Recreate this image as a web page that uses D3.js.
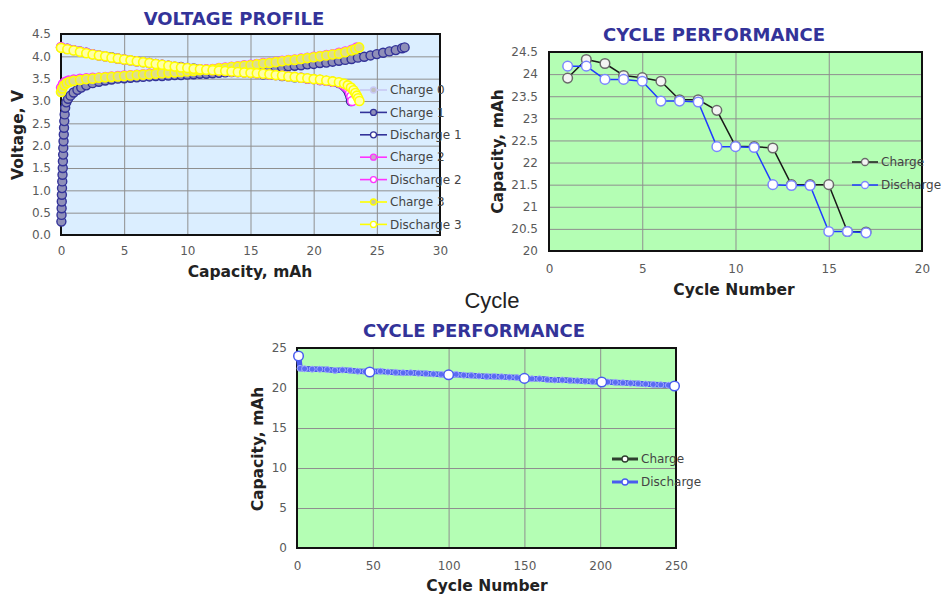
<!DOCTYPE html>
<html><head><meta charset="utf-8">
<script src="https://cdn.jsdelivr.net/npm/d3@7"></script>
<style>body{margin:0;background:#fff}svg{display:block}</style>
</head><body>
<svg id="c" width="943" height="596"></svg>
<script>
// ---------------- DATA ----------------
const voltXTicks=[0,5,10,15,20,25,30];
const voltYTicks=[0,0.5,1,1.5,2,2.5,3,3.5,4,4.5];
const voltSeriesNames=["Charge 0","Charge 1","Discharge 1","Charge 2","Discharge 2","Charge 3","Discharge 3"];
const charge0=[];
const charge1=[[0.03,0.30],[0.04,0.45],[0.05,0.6],[0.06,0.75],[0.07,0.9],[0.08,1.05],[0.1,1.2],[0.12,1.35],[0.14,1.5],[0.15,1.65],[0.17,1.8],[0.18,1.95],[0.2,2.1],[0.22,2.25],[0.24,2.4],[0.26,2.55],[0.29,2.7],[0.33,2.85],[0.42,2.97],[0.56,3.05],[0.75,3.12],[1.0,3.19],[1.3,3.25],[1.6,3.3],[2.0,3.35],[2.5,3.4],[3.0,3.43],[3.5,3.46],[4.0,3.48],[4.5,3.5],[5.0,3.51],[5.5,3.52],[6.0,3.53],[6.5,3.54],[7.0,3.55],[7.5,3.56],[8.0,3.56],[8.5,3.57],[9.0,3.58],[9.5,3.58],[10,3.59],[10.5,3.6],[11,3.61],[11.5,3.61],[12,3.62],[12.5,3.63],[13,3.64],[13.5,3.65],[14,3.66],[14.5,3.68],[15,3.69],[15.5,3.7],[16,3.72],[16.5,3.73],[17,3.75],[17.5,3.76],[18,3.78],[18.5,3.79],[19,3.8],[19.5,3.82],[20,3.83],[20.5,3.85],[21,3.86],[21.5,3.88],[22,3.9],[22.5,3.92],[23,3.94],[23.5,3.97],[24,3.99],[24.5,4.02],[25,4.05],[25.5,4.08],[26,4.11],[26.5,4.14],[27,4.18],[27.2,4.2]];
const discharge1=[[0,4.2],[0.5,4.17],[1,4.14],[1.5,4.11],[2,4.08],[2.5,4.05],[3,4.02],[3.5,4.0],[4,3.98],[4.5,3.95],[5,3.93],[5.5,3.91],[6,3.89],[6.5,3.87],[7,3.85],[7.5,3.83],[8,3.81],[8.5,3.79],[9,3.77],[9.5,3.76],[10,3.74],[10.5,3.73],[11,3.71],[11.5,3.7],[12,3.69],[12.5,3.68],[13,3.67],[13.5,3.66],[14,3.65],[14.5,3.64],[15,3.63],[15.5,3.62],[16,3.6],[16.5,3.59],[17,3.58],[17.5,3.56],[18,3.55],[18.5,3.53],[19,3.52],[19.5,3.5],[20,3.49],[20.5,3.47],[21,3.45],[21.5,3.43],[22,3.4],[22.3,3.36],[22.5,3.31],[22.68,3.25],[22.8,3.18],[22.9,3.1],[22.95,3.0]];
const charge2=[[0,3.3],[0.15,3.38],[0.35,3.43],[0.6,3.46],[1,3.48],[1.5,3.5],[2,3.51],[2.5,3.52],[3,3.53],[3.5,3.54],[4,3.55],[4.5,3.56],[5,3.57],[5.5,3.58],[6,3.59],[6.5,3.6],[7,3.61],[7.5,3.62],[8,3.63],[8.5,3.64],[9,3.65],[9.5,3.66],[10,3.67],[10.5,3.68],[11,3.7],[11.5,3.71],[12,3.72],[12.5,3.74],[13,3.75],[13.5,3.77],[14,3.78],[14.5,3.8],[15,3.81],[15.5,3.83],[16,3.85],[16.5,3.86],[17,3.88],[17.5,3.9],[18,3.92],[18.5,3.93],[19,3.95],[19.5,3.97],[20,3.99],[20.5,4.01],[21,4.03],[21.5,4.05],[22,4.08],[22.5,4.11],[23,4.15],[23.4,4.2]];
const discharge2=[[0,4.21],[0.5,4.17],[1,4.14],[1.5,4.11],[2,4.08],[2.5,4.05],[3,4.02],[3.5,4.0],[4,3.97],[4.5,3.95],[5,3.93],[5.5,3.91],[6,3.89],[6.5,3.87],[7,3.85],[7.5,3.83],[8,3.81],[8.5,3.79],[9,3.77],[9.5,3.75],[10,3.74],[10.5,3.72],[11,3.71],[11.5,3.7],[12,3.69],[12.5,3.68],[13,3.67],[13.5,3.66],[14,3.65],[14.5,3.64],[15,3.63],[15.5,3.62],[16,3.61],[16.5,3.59],[17,3.58],[17.5,3.57],[18,3.55],[18.5,3.54],[19,3.52],[19.5,3.5],[20,3.49],[20.5,3.47],[21,3.45],[21.5,3.43],[22,3.41],[22.3,3.37],[22.55,3.32],[22.75,3.26],[22.88,3.18],[22.98,3.1],[23.05,3.0]];
const charge3=[[0,3.2],[0.1,3.28],[0.25,3.35],[0.45,3.4],[0.7,3.43],[1,3.45],[1.5,3.47],[2,3.49],[2.5,3.5],[3,3.52],[3.5,3.53],[4,3.54],[4.5,3.55],[5,3.56],[5.5,3.57],[6,3.58],[6.5,3.59],[7,3.6],[7.5,3.61],[8,3.62],[8.5,3.63],[9,3.64],[9.5,3.65],[10,3.66],[10.5,3.67],[11,3.69],[11.5,3.7],[12,3.71],[12.5,3.73],[13,3.74],[13.5,3.76],[14,3.77],[14.5,3.79],[15,3.8],[15.5,3.82],[16,3.84],[16.5,3.85],[17,3.87],[17.5,3.89],[18,3.91],[18.5,3.92],[19,3.94],[19.5,3.96],[20,3.98],[20.5,4.0],[21,4.02],[21.5,4.04],[22,4.06],[22.5,4.09],[23,4.13],[23.3,4.16],[23.6,4.2]];
const discharge3=[[0,4.19],[0.5,4.16],[1,4.13],[1.5,4.1],[2,4.07],[2.5,4.04],[3,4.02],[3.5,4.0],[4,3.97],[4.5,3.95],[5,3.93],[5.5,3.91],[6,3.89],[6.5,3.87],[7,3.85],[7.5,3.83],[8,3.81],[8.5,3.79],[9,3.77],[9.5,3.75],[10,3.74],[10.5,3.72],[11,3.71],[11.5,3.7],[12,3.69],[12.5,3.68],[13,3.67],[13.5,3.66],[14,3.65],[14.5,3.64],[15,3.63],[15.5,3.62],[16,3.61],[16.5,3.6],[17,3.58],[17.5,3.57],[18,3.55],[18.5,3.54],[19,3.52],[19.5,3.51],[20,3.49],[20.5,3.48],[21,3.46],[21.5,3.44],[22,3.42],[22.4,3.39],[22.7,3.35],[22.95,3.3],[23.15,3.24],[23.3,3.18],[23.42,3.12],[23.52,3.06],[23.62,3.0]];

const cycles=[1,2,3,4,5,6,7,8,9,10,11,12,13,14,15,16,17];
const cycleCharge=[23.91,24.33,24.24,23.97,23.92,23.84,23.42,23.42,23.18,22.37,22.36,22.33,21.5,21.5,21.5,20.44,20.43];
const cycleDischarge=[24.18,24.18,23.88,23.88,23.84,23.39,23.39,23.37,22.36,22.36,22.34,21.5,21.48,21.48,20.44,20.44,20.41];
const cycleXTicks=[0,5,10,15,20];
const cycleYTicks=[20,20.5,21,21.5,22,22.5,23,23.5,24,24.5];

const longCycles=[1,2,5,10,15,20,25,30,35,40,45,50,55,60,65,70,75,80,85,90,95,100,105,110,115,120,125,130,135,140,145,150,155,160,165,170,175,180,185,190,195,200,205,210,215,220,225,230,235,240,245,250];
const longDischarge=[24.0,22.45,22.4,22.35,22.35,22.3,22.2,22.25,22.2,22.1,22.05,22.05,22.1,22.0,21.95,21.9,21.9,21.85,21.8,21.75,21.7,21.65,21.7,21.6,21.55,21.5,21.45,21.45,21.4,21.35,21.3,21.2,21.15,21.15,21.05,21.0,21.0,20.95,20.9,20.85,20.8,20.75,20.75,20.7,20.65,20.6,20.55,20.5,20.45,20.4,20.35,20.25];
const longChargeCycles=[1,2,25,50,75,100,125,150,175,200,225,250];
const longCharge=[23.9,22.5,22.25,22.1,21.95,21.7,21.5,21.25,21.05,20.8,20.6,20.3];
const longMajorCycles=[1,48,100,150,201,249];
const longMajorDischarge=[24.0,22.0,21.65,21.2,20.75,20.25];
const longXTicks=[0,50,100,150,200,250];
const longYTicks=[0,5,10,15,20,25];

// ---------------- DRAW ----------------
const svg=d3.select("#c");
const FONT="'DejaVu Sans', Verdana, sans-serif";

function makePanel(o){
  const x=d3.scaleLinear().domain(o.xd).range([o.l,o.r]);
  const y=d3.scaleLinear().domain(o.yd).range([o.b,o.t]);
  const g=svg.append("g");
  g.append("rect").attr("x",o.l).attr("y",o.t).attr("width",o.r-o.l).attr("height",o.b-o.t).attr("fill",o.bg);
  const ya=g.append("g").attr("transform",`translate(${o.l},0)`)
    .call(d3.axisLeft(y).tickValues(o.yt).tickSize(-(o.r-o.l)).tickPadding(o.ypad).tickFormat(o.yf));
  const xa=g.append("g").attr("transform",`translate(0,${o.b})`)
    .call(d3.axisBottom(x).tickValues(o.xt).tickSize(-(o.b-o.t)).tickPadding(o.xpad).tickFormat(o.xf));
  [ya,xa].forEach(a=>{
    a.select(".domain").remove();
    a.selectAll("line").attr("stroke","#8f8f8f").attr("stroke-width",1);
    a.selectAll("text").attr("fill","#5a5a5a").style("font-family",FONT).style("font-size","12px");
  });
  g.append("rect").attr("x",o.l).attr("y",o.t).attr("width",o.r-o.l).attr("height",o.b-o.t)
    .attr("fill","none").attr("stroke","#111").attr("stroke-width",2);
  g.append("text").attr("x",o.tx).attr("y",o.ty).attr("text-anchor","middle")
    .style("font-family",FONT).style("font-weight","bold").style("font-size","18px").attr("fill","#333399").text(o.title);
  g.append("text").attr("x",o.xlx).attr("y",o.xly).attr("text-anchor","middle")
    .style("font-family",FONT).style("font-weight","bold").style("font-size","15.5px").attr("fill","#222").text(o.xlabel);
  g.append("text").attr("transform",`translate(${o.ylx},${o.yly}) rotate(-90)`).attr("text-anchor","middle")
    .style("font-family",FONT).style("font-weight","bold").style("font-size","15.5px").attr("fill","#222").text(o.ylabel);
  return {g,x,y};
}

function series(p,data,s){
  if(!data.length) return;
  p.g.append("path").datum(data).attr("fill","none").attr("stroke",s.line).attr("stroke-width",s.lw)
    .attr("stroke-linejoin","round").attr("d",d3.line().x(d=>p.x(d[0])).y(d=>p.y(d[1])));
  if(s.r>0){
    p.g.append("g").selectAll("circle").data(data).join("circle")
      .attr("cx",d=>p.x(d[0])).attr("cy",d=>p.y(d[1])).attr("r",s.r)
      .attr("fill",s.fill).attr("stroke",s.stroke).attr("stroke-width",s.sw);
  }
}

function legendItem(p,x1,x2,y,label,s){
  p.g.append("line").attr("x1",x1).attr("x2",x2).attr("y1",y).attr("y2",y).attr("stroke",s.line).attr("stroke-width",s.llw||s.lw);
  p.g.append("circle").attr("cx",(x1+x2)/2).attr("cy",y).attr("r",s.lr).attr("fill",s.lfill||s.fill).attr("stroke",s.lstroke||s.stroke).attr("stroke-width",1.3);
  p.g.append("text").attr("x",x2+3).attr("y",y).attr("dy","0.35em")
    .style("font-family",FONT).style("font-size","12px").attr("fill","#444").text(label);
}

// Panel 1: Voltage profile
const p1=makePanel({l:61,r:440,t:34,b:235,xd:[0,30],yd:[0,4.5],xt:voltXTicks,yt:voltYTicks,
  xf:d3.format("d"),yf:d3.format(".1f"),ypad:10,xpad:11.5,bg:"#dbeeff",
  title:"VOLTAGE PROFILE",tx:234,ty:25,xlabel:"Capacity, mAh",xlx:250,xly:277,ylabel:"Voltage, V",ylx:23,yly:135});
const vStyles=[
  {line:"#c8c8f4",lw:1,fill:"#c0c0c0",stroke:"#c8c8f4",sw:1.4,r:4.5,lr:3},
  {line:"#333399",lw:1,fill:"#8f8fb8",stroke:"#333399",sw:1.4,r:4.5,lr:3},
  {line:"#333399",lw:1,fill:"#ffffff",stroke:"#333399",sw:1.4,r:4.5,lr:3},
  {line:"#ff33ff",lw:1,fill:"#c8a8c8",stroke:"#ff33ff",sw:1.4,r:4.5,lr:3},
  {line:"#ff33ff",lw:1,fill:"#ffffff",stroke:"#ff33ff",sw:1.4,r:4.5,lr:3},
  {line:"#ffff00",lw:1,fill:"#dede8c",stroke:"#ffff00",sw:1.6,r:4.5,lr:3,lfill:"#c8c8a0"},
  {line:"#ffff00",lw:1,fill:"#ffffa8",stroke:"#ffff00",sw:1.6,r:4.5,lr:3,lfill:"#ffffff"}
];
const vData=[charge0,charge1,discharge1,charge2,discharge2,charge3,discharge3];
vData.forEach((d,i)=>series(p1,d,vStyles[i]));
voltSeriesNames.forEach((n,i)=>legendItem(p1,360,387,90+i*22.4,n,Object.assign({},vStyles[i],{lw:1.6})));

// Panel 2: Cycle performance (short)
const p2=makePanel({l:549,r:922,t:52,b:251,xd:[0,20],yd:[20,24.5],xt:cycleXTicks,yt:cycleYTicks,
  xf:d3.format("d"),yf:d3.format(""),ypad:11,xpad:13.5,bg:"#b4feb4",
  title:"CYCLE PERFORMANCE",tx:714,ty:41,xlabel:"Cycle Number",xlx:734,xly:295,ylabel:"Capacity, mAh",ylx:503,yly:151.5});
const cStyle={line:"#1a1a1a",lw:1.5,fill:"#f4f4f4",stroke:"#6a6a6a",sw:1.5,r:4.8,lr:3.5};
const dStyle={line:"#1f3cff",lw:1.5,fill:"#fff",stroke:"#7b86ff",sw:1.5,r:4.8,lr:3.5};
series(p2,d3.zip(cycles,cycleCharge),cStyle);
series(p2,d3.zip(cycles,cycleDischarge),dStyle);
legendItem(p2,852,878,162,"Charge",cStyle);
legendItem(p2,852,878,185,"Discharge",dStyle);

// "Cycle" caption
svg.append("text").attr("x",492).attr("y",308).attr("text-anchor","middle")
  .style("font-family","'Liberation Sans', Arial, sans-serif").style("font-size","22px").attr("fill","#222").text("Cycle");

// Panel 3: Cycle performance (long)
const p3=makePanel({l:297,r:676,t:348,b:548,xd:[0,250],yd:[0,25],xt:longXTicks,yt:longYTicks,
  xf:d3.format("d"),yf:d3.format("d"),ypad:10,xpad:13.5,bg:"#b4feb4",
  title:"CYCLE PERFORMANCE",tx:474,ty:337,xlabel:"Cycle Number",xlx:487,xly:591,ylabel:"Capacity, mAh",ylx:263,yly:449});
const lcStyle={line:"#2f3f2f",lw:4,fill:"#fff",stroke:"#2f3f2f",sw:1,r:0,lr:3};
const ldStyle={line:"#4a5cf0",lw:5.5,fill:"#5a6cf2",stroke:"#a3acff",sw:1,r:3,lr:3,lfill:"#ffffff",lstroke:"#4a5cf0"};
series(p3,d3.zip(longChargeCycles,longCharge),lcStyle);
series(p3,d3.zip(longCycles,longDischarge),ldStyle);
p3.g.append("g").selectAll("circle").data(d3.zip(longMajorCycles,longMajorDischarge)).join("circle")
  .attr("cx",d=>p3.x(d[0])).attr("cy",d=>p3.y(d[1])).attr("r",4.8)
  .attr("fill","#fff").attr("stroke","#4a5cf0").attr("stroke-width",1.5);
legendItem(p3,612,638,459,"Charge",Object.assign({},lcStyle,{llw:3}));
legendItem(p3,612,638,482,"Discharge",Object.assign({},ldStyle,{llw:3}));
</script>
</body></html>
